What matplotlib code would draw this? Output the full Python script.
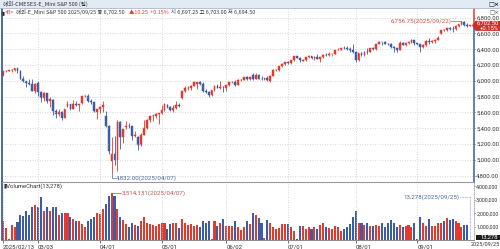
import numpy as np
import pandas as pd
import matplotlib.pyplot as plt
from matplotlib.patches import Rectangle, Polygon
from matplotlib.lines import Line2D

# ---- data (E-mini S&P 500 daily) ----
dates = pd.bdate_range('2025-02-13', '2025-09-25')
dates = dates[dates != pd.Timestamp('2025-04-18')]   # Good Friday, no session

opens = [6078, 6127, 6131, 6136, 6143, 6157, 6130, 6028, 5995, 5967, 5962, 5872,
         5968, 5855, 5782, 5848, 5745, 5760, 5620, 5577, 5605, 5527,
         5680, 5710, 5650, 5712, 5698, 5718, 5803, 5812, 5747, 5728, 5600,
         5647, 5668, 5560, 5425, 4990, 5080, 5000, 5480, 5290,
         5420, 5435, 5425, 5305, 5295, 5185, 5315, 5405, 5510, 5550, 5555, 5586,
         5594, 5630, 5700, 5675, 5632, 5656, 5689, 5780, 5869, 5910, 5916, 5940,
         5960, 5985, 5962, 5867, 5862, 5823, 5880, 5940, 5905, 5925,
         5905, 5946, 5980, 5981, 5948, 6010, 6014, 6045, 6028,
         6070, 6025, 6078, 6028, 6025, 6032, 5995, 6068, 6135, 6138, 6185, 6215,
         6240, 6232, 6262, 6315, 6295, 6258, 6262, 6298, 6315, 6285, 6305, 6280,
         6300, 6332, 6330, 6340, 6342, 6390, 6395, 6420, 6418, 6400, 6390,
         6368, 6262, 6352, 6322, 6370, 6365, 6412, 6398, 6468, 6490, 6486, 6470,
         6468, 6430, 6418, 6390, 6485, 6458, 6483, 6498, 6518,
         6475, 6470, 6425, 6458, 6510, 6490, 6505, 6522, 6595, 6642, 6640, 6668,
         6660, 6655, 6690, 6718, 6748, 6710, 6697.25]
highs = [6130, 6141, 6142, 6145, 6166, 6160, 6142, 6058, 6004, 6022, 6024, 5970,
         5993, 5870, 5865, 5852, 5790, 5765, 5650, 5648, 5618, 5650,
         5740, 5712, 5752, 5750, 5705, 5810, 5822, 5830, 5768, 5732, 5650,
         5685, 5745, 5625, 5440, 5290, 5305, 5510, 5490, 5395,
         5490, 5470, 5430, 5360, 5300, 5335, 5500, 5515, 5555, 5580, 5590, 5595,
         5690, 5725, 5710, 5680, 5690, 5745, 5720, 5870, 5930, 5930, 5948, 5982,
         5990, 5995, 5980, 5900, 5870, 5890, 5945, 5955, 5995, 5935,
         5952, 5990, 6000, 6010, 6025, 6030, 6050, 6065, 6050,
         6095, 6095, 6085, 6062, 6040, 6065, 6073, 6145, 6150, 6190, 6225, 6245,
         6250, 6265, 6320, 6318, 6300, 6280, 6305, 6325, 6318, 6310, 6340, 6305,
         6335, 6350, 6370, 6345, 6392, 6410, 6422, 6440, 6445, 6425, 6468,
         6372, 6355, 6370, 6375, 6420, 6420, 6435, 6470, 6500, 6495, 6500, 6478,
         6485, 6437, 6420, 6500, 6490, 6488, 6505, 6525, 6522,
         6485, 6472, 6462, 6512, 6545, 6522, 6525, 6568, 6650, 6660, 6675, 6680,
         6695, 6705, 6725, 6756.75, 6755, 6735, 6703]
lows = [6066, 6118, 6127, 6114, 6124, 6094, 6020, 5988, 5920, 5944, 5868, 5846,
        5815, 5735, 5748, 5715, 5670, 5570, 5535, 5550, 5510, 5525,
        5665, 5630, 5640, 5680, 5620, 5712, 5790, 5735, 5705, 5607, 5520,
        5595, 5605, 5415, 5080, 4832, 4940, 4860, 5140, 5215,
        5390, 5405, 5250, 5285, 5130, 5180, 5310, 5385, 5480, 5495, 5525, 5460,
        5585, 5625, 5660, 5615, 5605, 5650, 5670, 5765, 5860, 5890, 5890, 5930,
        5900, 5948, 5862, 5845, 5790, 5815, 5875, 5905, 5895, 5865,
        5875, 5930, 5972, 5930, 5945, 6000, 6008, 6015, 6010,
        6010, 6020, 6020, 6015, 6010, 5995, 5985, 6066, 6120, 6130, 6175, 6200,
        6210, 6220, 6258, 6285, 6240, 6250, 6255, 6290, 6275, 6265, 6275, 6240,
        6295, 6320, 6320, 6315, 6340, 6385, 6390, 6408, 6395, 6365, 6350,
        6235, 6255, 6310, 6315, 6340, 6360, 6390, 6395, 6462, 6455, 6465, 6450,
        6420, 6365, 6370, 6385, 6455, 6445, 6468, 6480, 6455,
        6460, 6370, 6415, 6440, 6465, 6485, 6485, 6515, 6590, 6630, 6635, 6650,
        6625, 6650, 6685, 6705, 6700, 6680, 6694.5]
closes = [6128, 6131, 6136, 6143, 6157, 6130, 6025, 5995, 5967, 5962, 5872, 5965,
          5855, 5782, 5848, 5745, 5776, 5620, 5577, 5605, 5527, 5643,
          5710, 5650, 5712, 5698, 5703, 5803, 5812, 5747, 5728, 5616, 5647,
          5668, 5700, 5425, 5110, 5070, 5000, 5480, 5290, 5390,
          5435, 5425, 5305, 5310, 5185, 5315, 5405, 5510, 5550, 5555, 5586, 5594,
          5630, 5712, 5675, 5632, 5656, 5689, 5685, 5869, 5910, 5916, 5940, 5980,
          5985, 5962, 5867, 5862, 5823, 5880, 5940, 5905, 5925, 5920,
          5946, 5980, 5981, 5948, 6010, 6014, 6045, 6028, 6048,
          6025, 6078, 6028, 6025, 6032, 6010, 6068, 6135, 6138, 6185, 6215, 6240,
          6232, 6262, 6315, 6295, 6265, 6262, 6298, 6315, 6295, 6305, 6280, 6300,
          6332, 6330, 6340, 6342, 6390, 6395, 6420, 6418, 6400, 6390, 6368,
          6262, 6352, 6322, 6370, 6365, 6415, 6398, 6468, 6486, 6486, 6470, 6468,
          6430, 6418, 6390, 6485, 6458, 6483, 6498, 6518, 6475,
          6470, 6425, 6458, 6510, 6490, 6505, 6522, 6542, 6642, 6640, 6668, 6660,
          6655, 6690, 6718, 6748, 6710, 6692.25, 6702.5]
# volume in thousands of contracts
volume_k = [1400, 910, 70, 1100, 1000, 1330, 1830, 1760, 2150, 1830, 2500, 2650,
            2500, 3200, 2200, 2450, 2200, 2450, 2500, 1830, 2050, 2050,
            2000, 1700, 1600, 1450, 1400, 1200, 1000, 1400, 1550, 1750, 2050,
            1950, 2300, 2700, 3300, 3514.131, 3300, 2300, 1750, 1500,
            1200, 1000, 1300, 1150, 1070, 1400, 1700, 1300, 1200, 1150, 1070, 1200,
            1250, 1250, 800, 1200, 1250, 1250, 900, 1550, 1300, 1150, 1200, 1070,
            1150, 950, 1400, 1300, 1400, 100, 1400, 1070, 1300, 1550,
            1070, 1070, 1070, 1450, 1000, 770, 1000, 1450, 1200,
            2000, 1830, 1650, 1250, 150, 1500, 1250, 950, 820, 900, 1200, 1200,
            1200, 950, 650, 80, 1070, 1070, 820, 950, 820, 950, 820, 1150,
            1250, 950, 900, 820, 1070, 950, 700, 820, 1000, 1200, 1750,
            2200, 1250, 1250, 1150, 1300, 1070, 1070, 1150, 1070, 1250, 1000, 1300,
            1500, 1250, 950, 1150, 950, 1070, 1150, 1000, 1250,
            80, 1700, 1300, 1070, 1550, 1070, 1070, 1250, 1250, 1450, 1650, 1500,
            1550, 1450, 1250, 1000, 1150, 1150, 13.278]

last_price = 6702.50

# ---- styles ----
RED = '#e5392d'
BLUE = '#3b5ca8'
GRID = '#c9c9c9'
TXT = '#333333'
CJK = ['Noto Sans CJK KR', 'DejaVu Sans']
NUM = ['Roboto', 'DejaVu Sans']

W, H = 500, 249
def fx(px):
    return px / W
def fy(py):
    return 1 - py / H

o = np.array(opens); h = np.array(highs); l = np.array(lows); c = np.array(closes)
vol = np.array(volume_k) * 1000
x = np.arange(len(c))
up = c >= o
colors = np.where(up, RED, BLUE)

month_idx = [0] + [i for i in range(1, len(dates)) if dates[i].month != dates[i - 1].month]
month_lab = [dates[0].strftime('%Y/%m/%d')] + [dates[i].strftime('%m/%d') for i in month_idx[1:]]

fig = plt.figure(figsize=(5, 2.49), dpi=100)
fig.patch.set_facecolor('white')

ax = fig.add_axes([fx(2), fy(182), fx(474) - fx(2), fy(9) - fy(182)])
axv = fig.add_axes([fx(2), fy(240), fx(474) - fx(2), fy(182) - fy(240)])

xl = (-0.27, 160.27)

# ---- price panel ----
ax.vlines(x, l, h, colors=colors, lw=0.6)
ax.bar(x, np.abs(c - o), bottom=np.minimum(o, c), width=0.62, color=colors,
       edgecolor=colors, linewidth=0.35)
ax.set_xlim(*xl)
ax.set_ylim(4720, 6910)
yt = np.arange(4800, 6801, 200)
ax.set_yticks(yt)
ax.set_yticklabels([f'{v:,.2f}' for v in yt])
ax.yaxis.tick_right()
ax.tick_params(axis='y', length=1, width=0.5, pad=0.6, labelsize=4.3, colors=TXT)
ax.set_xticks(month_idx[1:])
ax.tick_params(axis='x', length=0, labelbottom=False)
for lab in ax.get_yticklabels():
    lab.set_family(NUM)
ax.grid(True, color=GRID, lw=0.6, ls=(0, (1, 2)))
for s in ['top', 'bottom', 'right']:
    ax.spines[s].set_visible(False)
ax.spines['left'].set_color(BLUE)
ax.spines['left'].set_linewidth(1.3)
# right border: red above the last price, blue below
ax.plot([xl[1], xl[1]], [last_price, 6910], color=RED, lw=1.1, clip_on=False)
ax.plot([xl[1], xl[1]], [4720, last_price], color=BLUE, lw=1.1, clip_on=False)

# high / low annotations
hi_i = int(np.argmax(h)); lo_i = int(np.argmin(l))
ax.plot([hi_i - 3.4, hi_i], [h[hi_i], h[hi_i]], color='#c9504a', lw=0.5)
ax.text(hi_i - 3.5, h[hi_i], f'{h[hi_i]:,.2f}({dates[hi_i]:%Y/%m/%d})', color='#c9504a',
        fontsize=4.4, ha='right', va='center', family=NUM)
ax.plot([lo_i, lo_i, lo_i + 1.2], [l[lo_i], 4775, 4775], color='#4a6a9c', lw=0.5)
ax.text(lo_i + 1.3, 4775, f'{l[lo_i]:,.2f}({dates[lo_i]:%Y/%m/%d})', color='#4a6a9c',
        fontsize=4.4, ha='left', va='center', family=NUM)

# ---- volume panel ----
axv.bar(x, vol, width=0.7, color=colors, linewidth=0)
axv.set_xlim(*xl)
axv.set_ylim(0, 4.33e6)
vt = [1e6, 2e6, 3e6, 4e6]
axv.set_yticks(vt)
axv.set_yticklabels([f'{int(v):,}' for v in vt])
axv.yaxis.tick_right()
axv.tick_params(axis='y', length=1, width=0.5, pad=0.6, labelsize=3.9, colors=TXT)
for lab in axv.get_yticklabels():
    lab.set_family(NUM)
axv.set_xticks(month_idx)
axv.set_xticklabels(month_lab)
axv.tick_params(axis='x', length=2.5, width=0.5, pad=0.5, labelsize=4.3, colors=TXT)
for lab in axv.get_xticklabels():
    lab.set_family(NUM)
    lab.set_ha('left')
axv.grid(True, axis='x', color=GRID, lw=0.6, ls=(0, (1, 2)))
axv.spines['top'].set_color('#9a9a9a')
axv.spines['top'].set_linewidth(0.8)
axv.spines['bottom'].set_color('#8a8a8a')
axv.spines['bottom'].set_linewidth(0.7)
axv.spines['right'].set_color('#a0a0a0')
axv.spines['right'].set_linestyle((0, (1, 1.5)))
axv.spines['right'].set_linewidth(0.6)
axv.spines['left'].set_color(BLUE)
axv.spines['left'].set_linewidth(1.3)

vmax_i = int(np.argmax(vol))
axv.plot([vmax_i + 0.3, vmax_i + 3.3], [vol[vmax_i], vol[vmax_i]], color='#c9504a', lw=0.5)
axv.text(vmax_i + 3.4, vol[vmax_i], f'{int(vol[vmax_i]):,}({dates[vmax_i]:%Y/%m/%d})',
         color='#c9504a', fontsize=4.4, ha='left', va='center', family=NUM)
last_i = len(c) - 1
axv.plot([last_i - 3.6, last_i, last_i], [3.23e6, 3.23e6, vol[last_i]], color='#6a86b4',
         lw=0.5, ls=(0, (1, 1)))
axv.text(last_i - 3.7, 3.23e6, f'{int(vol[last_i]):,}({dates[last_i]:%Y/%m/%d})',
         color='#4a6a9c', fontsize=4.4, ha='right', va='center', family=NUM)

# ---- header, legend, boxes ----
fig.patches.append(Rectangle((0, fy(8.5)), 1, 8.5 / H, transform=fig.transFigure,
                             facecolor='#e2eaf4', edgecolor='none', zorder=0))
fig.add_artist(Line2D([0, 1], [fy(8.5), fy(8.5)], color='#aab8cc', lw=0.6))
fig.text(fx(3), fy(4.3), '해외-CMESES-E_Mini S&P 500 (일)', fontsize=4.0, color=TXT,
         va='center', family=CJK)
fig.text(fx(488), fy(4.3), '□×', fontsize=4.5, color='#222222', va='center',
         family='DejaVu Sans', weight='bold')
fig.text(fx(489), fy(12.5), '□×', fontsize=4.0, color='#555555', va='center',
         family='DejaVu Sans')

# legend line, pieces placed one after another
r = fig.canvas.get_renderer()
pieces = [('▮', '#222222', 1.0), ('<B>', RED, 1.5), ('해외-E_Mini S&P 500 2025/09/25 종 6,702.50', TXT, 4.0),
          ('▲10.25  +0.15%', RED, 3.0), ('시 6,697.25 고 6,703.00 저 6,694.50', TXT, 0)]
px = 1.0
for txt, col, gap in pieces:
    t = fig.text(fx(px), fy(12.3), txt, fontsize=3.9, color=col, va='center', family=CJK)
    bb = t.get_window_extent(renderer=r)
    px = bb.x1 + gap

fig.text(fx(3), fy(185.8), '▮VolumeChart(13,278)', fontsize=4.2, color=TXT, va='center',
         family=NUM)

# last price tag on the price axis
y0 = ax.transData.transform((0, last_price))[1] / H
tag = Polygon([(fx(472), y0), (fx(475.5), y0 + 4.5 / H), (fx(500), y0 + 4.5 / H),
               (fx(500), y0 - 5.5 / H), (fx(475.5), y0 - 5.5 / H)],
              closed=True, transform=fig.transFigure, facecolor='#cc2f2a',
              edgecolor='none', zorder=5)
fig.add_artist(tag)
fig.text(fx(499), y0 + 2 / H, '6,702.50', fontsize=4.2, color='white', ha='right',
         va='center', family=NUM, zorder=6)
fig.text(fx(499), y0 - 3.2 / H, '+0.15%', fontsize=4.2, color='white', ha='right',
         va='center', family=NUM, zorder=6)

# last volume tag and last date
fig.add_artist(Rectangle((fx(476), fy(239.5)), fx(24), 4.8 / H, transform=fig.transFigure,
                         facecolor='#1e1e1e', edgecolor='none', zorder=5))
fig.text(fx(498.5), fy(237.1), '13,278', fontsize=4.2, color='white', ha='right',
         va='center', family=NUM, zorder=6)
fig.text(fx(499.5), fy(244.4), dates[-1].strftime('%Y/%m/%d'), fontsize=4.0, color=TXT,
         ha='right', va='center', family=NUM)

fig.savefig('out.png', dpi=100)
